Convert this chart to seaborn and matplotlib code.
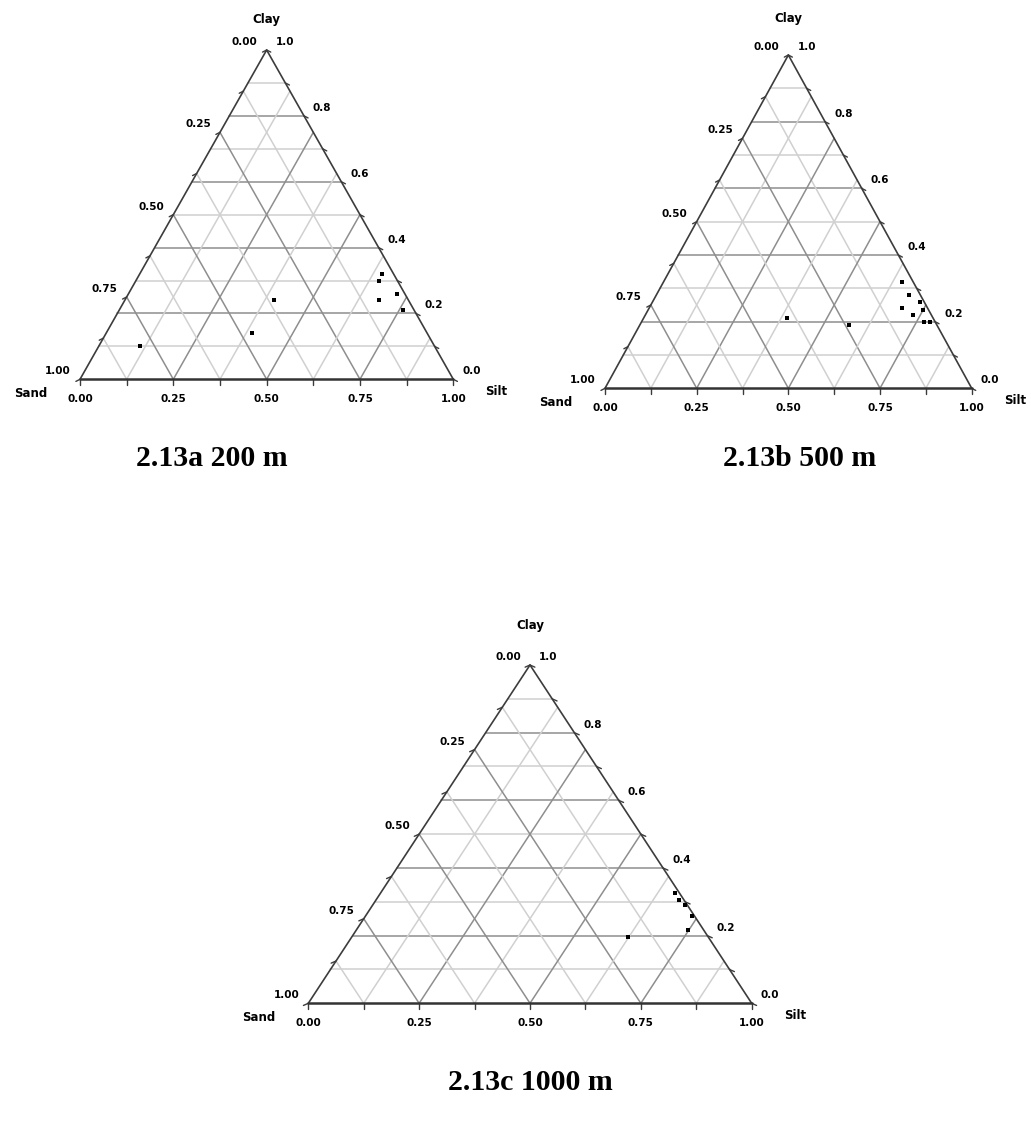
import numpy as np
import pandas as pd
import matplotlib
matplotlib.use("Agg")
import matplotlib.pyplot as plt
import seaborn as sns

sns.set_theme(style="white")
plt.rcParams["font.family"] = ["DejaVu Sans"]

# ---------------- data (fractions) ----------------
clay_200 = [0.32, 0.30, 0.24, 0.26, 0.21, 0.24, 0.14, 0.10]
silt_200 = [0.65, 0.65, 0.68, 0.72, 0.76, 0.40, 0.39, 0.11]
sand_200 = [0.03, 0.05, 0.08, 0.02, 0.03, 0.36, 0.47, 0.79]

clay_500 = [0.32, 0.28, 0.26, 0.24, 0.22, 0.235, 0.20, 0.20, 0.21, 0.19]
silt_500 = [0.65, 0.69, 0.73, 0.69, 0.73, 0.75, 0.77, 0.785, 0.39, 0.57]
sand_500 = [0.03, 0.03, 0.01, 0.07, 0.05, 0.015, 0.03, 0.015, 0.40, 0.24]

clay_1000 = [0.325, 0.305, 0.29, 0.258, 0.217, 0.197]
silt_1000 = [0.665, 0.683, 0.705, 0.737, 0.748, 0.623]
sand_1000 = [0.010, 0.012, 0.005, 0.005, 0.035, 0.180]

captions = ["2.13a 200 m", "2.13b 500 m", "2.13c 1000 m"]
axis_names = ["Clay", "Sand", "Silt"]
bottom_ticks = [0.0, 0.25, 0.5, 0.75, 1.0]          # silt
bottom_labels = ["0.00", "0.25", "0.50", "0.75", "1.00"]
left_ticks = [0.0, 0.25, 0.5, 0.75, 1.0]            # sand
left_labels = ["0.00", "0.25", "0.50", "0.75", "1.00"]
right_ticks = [1.0, 0.8, 0.6, 0.4, 0.2, 0.0]        # clay
right_labels = ["1.0", "0.8", "0.6", "0.4", "0.2", "0.0"]

panels = [
    (sand_200, silt_200, clay_200),
    (sand_500, silt_500, clay_500),
    (sand_1000, silt_1000, clay_1000),
]

# ---------------- layout (pixels) ----------------
W, H = 1031, 1129
boxes = [(80, 50, 453.3, 379.3), (605, 55, 971.7, 388.3), (308.3, 665, 751.7, 1003.3)]
clay_title_off = [30, 37, 40]
caption_pos = [(212, 458), (800, 458), (530, 1083)]

h = np.sqrt(3) / 2
DARK = "#8e8e8e"
LIGHT = "#d0d0d0"
EDGE = "#3c3c3c"


def tern(sand, silt, clay):
    s = np.asarray(silt, float)
    c = np.asarray(clay, float)
    return s + c / 2, c * h


fig = plt.figure(figsize=(W / 100, H / 100), dpi=100)
fig.patch.set_facecolor("white")

lab_kw = dict(fontsize=7.5, fontweight="bold", color="black", textcoords="offset pixels",
              annotation_clip=False)

for i, (sand, silt, clay) in enumerate(panels):
    l, t, r, b = boxes[i]
    ax = fig.add_axes([l / W, 1 - b / H, (r - l) / W, (b - t) / H])
    ax.set_xlim(0, 1)
    ax.set_ylim(0, h)
    ax.axis("off")

    # horizontal clay grid lines
    for k in range(1, 10):
        c = k / 10
        col = DARK if k % 2 == 0 else LIGHT
        ax.plot([c / 2, 1 - c / 2], [c * h, c * h], color=col, lw=1.1, zorder=1)
    # diagonal silt / sand grid lines at eighths
    for k in range(1, 8):
        v = k / 8
        col = DARK if k % 2 == 0 else LIGHT
        ax.plot([v, v + (1 - v) / 2], [0, (1 - v) * h], color=col, lw=1.1, zorder=1)
        ax.plot([1 - v, (1 - v) / 2], [0, (1 - v) * h], color=col, lw=1.1, zorder=1)

    # edges
    ax.plot([0, 0.5, 1], [0, h, 0], color=EDGE, lw=1.2, zorder=3, clip_on=False)
    ax.plot([0, 1], [0, 0], color="#333333", lw=1.8, zorder=3, clip_on=False)

    # tick marks
    tl = 0.011
    for k in range(9):
        v = k / 8
        ax.plot([v, v], [0, -tl * 1.3], color=EDGE, lw=1.0, clip_on=False)
        # left edge (sand = v)
        x0, y0 = tern(v, 0, 1 - v)
        ax.plot([x0, x0 - tl], [y0, y0 - tl * 0.5], color=EDGE, lw=1.0, clip_on=False)
    for k in range(11):
        c = k / 10
        x0, y0 = tern(0, 1 - c, c)
        ax.plot([x0, x0 + tl], [y0, y0 - tl * 0.5], color=EDGE, lw=1.0, clip_on=False)

    # tick labels
    for v, lab in zip(bottom_ticks, bottom_labels):
        ax.annotate(lab, (v, 0), xytext=(0, -20), ha="center", va="center", **lab_kw)
    for v, lab in zip(left_ticks, left_labels):
        x0, y0 = tern(v, 0, 1 - v)
        ax.annotate(lab, (x0, y0), xytext=(-9, 8), ha="right", va="center", **lab_kw)
    for c, lab in zip(right_ticks, right_labels):
        x0, y0 = tern(0, 1 - c, c)
        ax.annotate(lab, (x0, y0), xytext=(9, 8), ha="left", va="center", **lab_kw)

    name_kw = dict(fontsize=8.5, fontweight="bold", color="black", textcoords="offset pixels",
                   annotation_clip=False)
    ax.annotate(axis_names[0], (0.5, h), xytext=(0, clay_title_off[i]), ha="center", va="center", **name_kw)
    ax.annotate(axis_names[1], (0, 0), xytext=(-33, -14), ha="right", va="center", **name_kw)
    ax.annotate(axis_names[2], (1, 0), xytext=(32, -12), ha="left", va="center", **name_kw)

    # data points
    x, y = tern(sand, silt, clay)
    df = pd.DataFrame({"x": x, "y": y})
    sns.scatterplot(data=df, x="x", y="y", marker="s", s=7, color="black", linewidth=0,
                    ax=ax, zorder=5, clip_on=False, legend=False)
    ax.set_xlabel("")
    ax.set_ylabel("")

    cx, cy = caption_pos[i]
    fig.text(cx / W, 1 - cy / H, captions[i], ha="center", va="center", color="black",
             fontsize=21.5, fontweight="bold", family=["Liberation Serif", "DejaVu Serif"])

fig.savefig("out.png", dpi=100, facecolor="white")
